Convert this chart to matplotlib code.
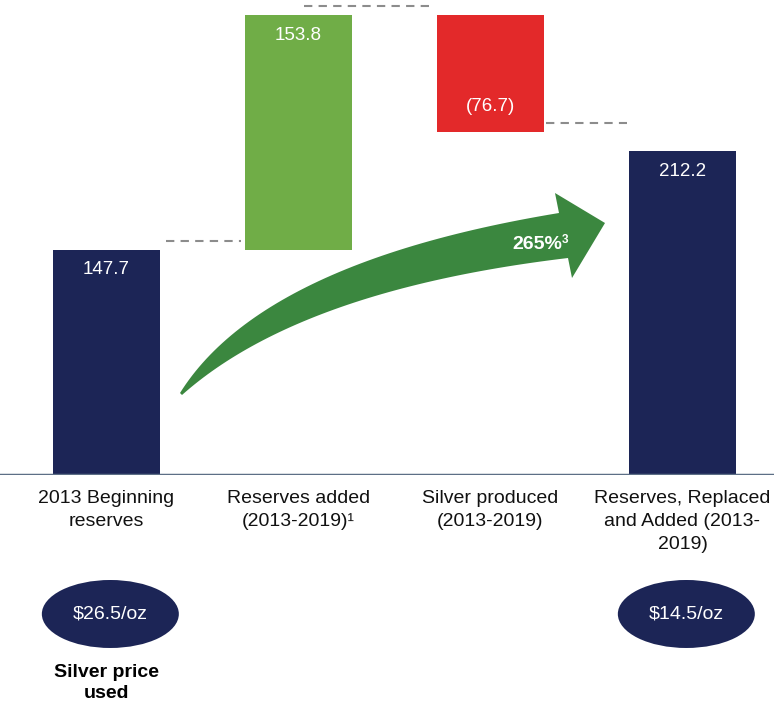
import numpy as np
import matplotlib
matplotlib.use("Agg")
import matplotlib.pyplot as plt
from matplotlib.patches import Polygon, Ellipse
from matplotlib.transforms import ScaledTranslation

plt.rcParams['font.family'] = ['Liberation Sans', 'DejaVu Sans']

# ---- data ----
categories = ["2013 Beginning\nreserves",
              "Reserves added\n(2013-2019)\u00b9",
              "Silver produced\n(2013-2019)",
              "Reserves, Replaced\nand Added (2013-\n2019)"]
values = [147.7, 153.8, -76.7, 212.2]
value_labels = ["147.7", "153.8", "(76.7)", "212.2"]
kinds = ["total", "delta", "delta", "total"]
prices = {0: "\\$26.5/oz", 3: "\\$14.5/oz"}
price_caption = "Silver price\nused"
growth_label = "265%"
growth_note = "3"

navy = "#1c2556"
green = "#70ad47"
red = "#e3292a"
arrow_green = "#3b873f"

W, H = 774, 705
fig = plt.figure(figsize=(W / 100, H / 100), dpi=100)
base_px = 475
ax = fig.add_axes([0, (H - base_px) / H, 1, base_px / H])
ax.set_xlim(-0.5547, 3.4766)
ax.set_ylim(0, 311.5)
ax.axis("off")

bw = 0.557
bottoms, tops, colors = [], [], []
running = 0.0
for v, k in zip(values, kinds):
    if k == "total":
        b, t = 0.0, v
        running = v
        c = navy
    else:
        if v >= 0:
            b, t = running, running + v
            c = green
        else:
            b, t = running + v, running
            c = red
        running = running + v
    bottoms.append(b); tops.append(t); colors.append(c)

x = np.arange(len(values))
ax.bar(x, np.array(tops) - np.array(bottoms), bottom=bottoms, width=bw,
       color=colors, zorder=2)

# value labels
for i, lab in enumerate(value_labels):
    if values[i] < 0:
        y = bottoms[i] + 0.22 * (tops[i] - bottoms[i])
    else:
        y = tops[i] - 13
    ax.text(x[i], y, lab, color="white", fontsize=13.5, ha="center",
            va="center", zorder=3)

# connectors (dashed), slightly raised
off = ax.transData + ScaledTranslation(0, 0.09, fig.dpi_scale_trans)
levels = [tops[0], tops[1], bottoms[2]]
starts = [x[0] + bw / 2 + 0.03, x[1] + 0.03, x[2] + bw / 2 + 0.01]
ends = [x[1] - bw / 2 - 0.02, x[2] - bw / 2 - 0.01, x[3] - bw / 2 - 0.01]
for lv, s, e in zip(levels, starts, ends):
    ax.plot([s, e], [lv, lv], linestyle=(0, (4, 3)), color="#8c8c8c",
            lw=1.5, transform=off, zorder=1)

# baseline
ax.axhline(0, color="#5d6f86", lw=2.5, zorder=4)

# category labels
for i, c in enumerate(categories):
    ax.text(x[i], -10, c, ha="center", va="top", fontsize=14,
            linespacing=1.45, color="#111111")

# price ellipses
ell_y = -(614 - base_px) / 1.525
for i, p in prices.items():
    e = Ellipse((x[i] + 0.02, ell_y), width=137 / 192, height=68 / 1.525,
                facecolor=navy, edgecolor="none", clip_on=False, zorder=3)
    ax.add_patch(e)
    ax.text(x[i] + 0.02, ell_y, p, color="white", fontsize=14,
            ha="center", va="center", zorder=4)
ax.text(x[0], -(683 - base_px) / 1.525, price_caption, ha="center",
        va="center", fontsize=14, fontweight="bold", linespacing=1.35)

# curved arrow (decoration), in figure pixel coordinates
def qbez(p0, p1, p2, n=60):
    t = np.linspace(0, 1, n)[:, None]
    p0, p1, p2 = map(np.asarray, (p0, p1, p2))
    return (1 - t) ** 2 * p0 + 2 * t * (1 - t) * p1 + t ** 2 * p2

upper = qbez((180, 393), (262, 262), (559, 213))
head = np.array([(555, 193), (605, 223), (572, 278)])
lower = qbez((568, 258), (300, 290), (182, 395))
pts = np.vstack([upper, head, lower])
pts_fig = np.column_stack([pts[:, 0] / W, 1 - pts[:, 1] / H])
fig.patches.append(Polygon(pts_fig, closed=True, transform=fig.transFigure,
                           facecolor=arrow_green, edgecolor="none",
                           zorder=5))
fig.text(562 / W, 1 - 245 / H, growth_label, color="white", fontsize=14,
         fontweight="bold", ha="right", va="center", zorder=6)
fig.text(562 / W, 1 - 240 / H, growth_note, color="white", fontsize=8.5,
         fontweight="bold", ha="left", va="center", zorder=6)

fig.savefig("out.png", dpi=100)
